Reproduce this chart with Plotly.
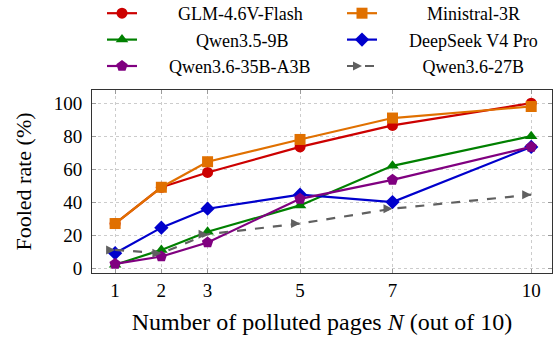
import plotly.graph_objects as go

N = [1, 2, 3, 5, 7, 10]
names = ["GLM-4.6V-Flash", "Ministral-3R", "Qwen3.5-9B", "DeepSeek V4 Pro",
         "Qwen3.6-35B-A3B", "Qwen3.6-27B"]
glm = [27, 49, 58, 73.5, 86.5, 100]
ministral = [27, 49, 64.5, 78, 91, 98]
qwen35 = [2, 11, 22, 38, 62, 80]
deepseek = [9, 24.5, 36, 44.5, 40, 73.5]
qwen36moe = [2.5, 7, 15.5, 42, 53.5, 73.5]
qwen36 = [11, 9, 20.5, 27, 36, 44.5]

series = [glm, ministral, qwen35, deepseek, qwen36moe, qwen36]
colors = ["#cc0000", "#e07000", "#008000", "#0000cc", "#800080", "#606060"]
symbols = ["circle", "square", "triangle-up", "diamond", "pentagon", "arrow-right"]
sizes = [11, 11, 11, 11, 12, 9]
dashes = ["solid", "solid", "solid", "solid", "solid", "dash"]
pads = [8, 10, 12, 6, 6, 9]
legends = ["legend", "legend2", "legend", "legend2", "legend", "legend2"]

fig = go.Figure()
for s, nm, c, sym, sz, d, p, lg in zip(series, names, colors, symbols, sizes,
                                         dashes, pads, legends):
    fig.add_trace(go.Scatter(
        x=N, y=s, name="\u00a0" * p + nm, mode="lines+markers",
        line=dict(color=c, width=2.2, dash=d),
        marker=dict(symbol=sym, size=sz, color=c),
        legend=lg,
    ))

font = "Liberation Serif, Times New Roman, serif"
leg_common = dict(orientation="v", xref="paper", yref="container",
                  y=1 - 40 / 338, xanchor="left", yanchor="middle",
                  font=dict(size=18), bgcolor="rgba(0,0,0,0)")
fig.update_layout(
    width=556, height=338,
    margin=dict(l=92, r=4, t=90, b=65),
    paper_bgcolor="white", plot_bgcolor="white",
    font=dict(family=font, size=18, color="black"),
    showlegend=True,
    legend=dict(x=10 / 460, **leg_common),
    legend2=dict(x=250 / 460, **leg_common),
    xaxis=dict(range=[0.5, 10.45], tickvals=N, ticktext=[str(v) for v in N],
               showline=True, linecolor="#333", linewidth=1, mirror="ticks",
               ticks="inside", ticklen=4, tickcolor="#999",
               showgrid=True, gridcolor="#cccccc", griddash="dot", gridwidth=1,
               zeroline=False, tickfont=dict(size=19, family=font),
               title=dict(text="Number of polluted pages <i>N</i> (out of 10)",
                          font=dict(size=24, family=font), standoff=13)),
    yaxis=dict(range=[-3, 108], tickvals=[0, 20, 40, 60, 80, 100],
               showline=True, linecolor="#333", linewidth=1, mirror="ticks",
               ticks="inside", ticklen=4, tickcolor="#999", ticklabelstandoff=5,
               showgrid=True, gridcolor="#cccccc", griddash="dot", gridwidth=1,
               zeroline=False, tickfont=dict(size=19, family=font),
               title=dict(text="Fooled rate (%)", font=dict(size=22, family=font),
                          standoff=16)),
)
fig.write_html("out.html")
